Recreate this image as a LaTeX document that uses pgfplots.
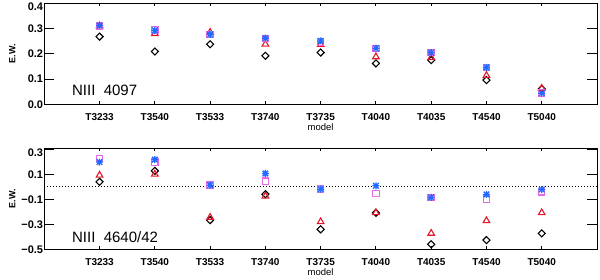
\documentclass[border=0pt]{standalone}
\usepackage{fontspec}
\setmainfont{Liberation Sans}
\usepackage{pgfplots}
\pgfplotsset{compat=1.18}
\definecolor{cBlue}{RGB}{35,105,255}
\definecolor{cMag}{RGB}{230,105,230}
\definecolor{cRed}{RGB}{230,20,40}
\newcommand{\lowered}[1]{\vphantom{0}\smash{\raisebox{-3.5pt}{#1}}}
\pgfdeclareplotmark{idlast}{%
 \pgfpathmoveto{\pgfqpoint{-\pgfplotmarksize}{0pt}}\pgfpathlineto{\pgfqpoint{\pgfplotmarksize}{0pt}}%
 \pgfpathmoveto{\pgfqpoint{0pt}{-\pgfplotmarksize}}\pgfpathlineto{\pgfqpoint{0pt}{\pgfplotmarksize}}%
 \pgfpathmoveto{\pgfqpoint{-0.8\pgfplotmarksize}{-0.8\pgfplotmarksize}}\pgfpathlineto{\pgfqpoint{0.8\pgfplotmarksize}{0.8\pgfplotmarksize}}%
 \pgfpathmoveto{\pgfqpoint{-0.8\pgfplotmarksize}{0.8\pgfplotmarksize}}\pgfpathlineto{\pgfqpoint{0.8\pgfplotmarksize}{-0.8\pgfplotmarksize}}%
 \pgfusepathqstroke}
\pgfplotsset{
  myaxis/.style={
    scale only axis, width=552.7pt, height=101pt,
    xmin=0, xmax=10,
    xtick={1,2,3,4,5,6,7,8,9},
    xticklabels={T3233,T3540,T3533,T3740,T3735,T4040,T4035,T4540,T5040},
    axis line style={line width=0.9pt},
    tick style={line width=0.9pt, black},
    major tick length=10pt,
    xtick style={/pgfplots/major tick length=3pt},
    tick align=inside,
    xticklabel style={font=\fontsize{10}{12}\selectfont\bfseries, anchor=center, yshift=-12.5pt},
    yticklabel style={font=\fontsize{11}{13}\selectfont\bfseries, inner sep=0pt, xshift=-1pt},
    xlabel={model},
    xlabel style={font=\fontsize{9.5}{11}\selectfont, at={(axis description cs:0.5,-0.23)}, anchor=center},
    ylabel={E.W.},
    ylabel style={font=\fontsize{9}{11}\selectfont\bfseries, at={(axis description cs:-0.058,0.5)}, anchor=center},
    clip=false,
  },
  dia/.style={only marks, mark=square, mark size=2.5pt, mark options={rotate=45}, black, line width=1.1pt},
  tri/.style={only marks, mark=triangle, mark size=3.8pt, cRed, line width=1.1pt},
  sqr/.style={only marks, mark=square, mark size=3.2pt, cMag, line width=1.1pt},
  ast/.style={only marks, mark=idlast, mark size=3.5pt, cBlue, line width=1.3pt},
}
\begin{document}
\begin{tikzpicture}
\useasboundingbox (0,0) rectangle (600pt,280pt);
\begin{axis}[myaxis, at={(44.3pt,175.7pt)}, anchor=south west,
  ymin=0, ymax=0.4, ytick={0,0.1,0.2,0.3,0.4},
  yticklabels={0.0,0.1,0.2,0.3,\lowered{0.4}}]
\addplot[dia] coordinates {(1,0.268) (2,0.209) (3,0.238) (4,0.192) (5,0.205) (6,0.162) (7,0.175) (8,0.096) (9,0.061)};
\addplot[tri] coordinates {(1,0.310) (2,0.280) (3,0.285) (4,0.238) (5,0.237) (6,0.188) (7,0.185) (8,0.114) (9,0.063)};
\addplot[sqr] coordinates {(1,0.310) (2,0.295) (3,0.277) (4,0.260) (5,0.247) (6,0.220) (7,0.205) (8,0.145) (9,0.045)};
\addplot[ast] coordinates {(1,0.312) (2,0.293) (3,0.277) (4,0.262) (5,0.251) (6,0.222) (7,0.205) (8,0.146) (9,0.044)};
\node[anchor=west, font=\fontsize{15}{18}\selectfont, inner sep=0pt] at (axis cs:0.5,0.054) {NIII\ \ 4097};
\end{axis}
\begin{axis}[myaxis, at={(44.3pt,30.7pt)}, anchor=south west,
  ymin=-0.5, ymax=0.31, ytick={-0.5,-0.3,-0.1,0.1,0.3},
  yticklabels={−0.5,−0.3,−0.1,0.1,\lowered{0.3}}]
\addplot[black, dotted, line width=1pt] coordinates {(0,0) (10,0)};
\addplot[dia] coordinates {(1,0.041) (2,0.129) (3,-0.266) (4,-0.058) (5,-0.340) (6,-0.207) (7,-0.460) (8,-0.426) (9,-0.372)};
\addplot[tri] coordinates {(1,0.094) (2,0.102) (3,-0.244) (4,-0.074) (5,-0.279) (6,-0.207) (7,-0.372) (8,-0.271) (9,-0.207)};
\addplot[sqr] coordinates {(1,0.228) (2,0.200) (3,0.014) (4,0.046) (5,-0.018) (6,-0.052) (7,-0.084) (8,-0.098) (9,-0.039)};
\addplot[ast] coordinates {(1,0.200) (2,0.220) (3,0.014) (4,0.108) (5,-0.018) (6,0.009) (7,-0.084) (8,-0.060) (9,-0.020)};
\node[anchor=west, font=\fontsize{15}{18}\selectfont, inner sep=0pt] at (axis cs:0.5,-0.40) {NIII\ \ 4640/42};
\end{axis}
\end{tikzpicture}
\end{document}
